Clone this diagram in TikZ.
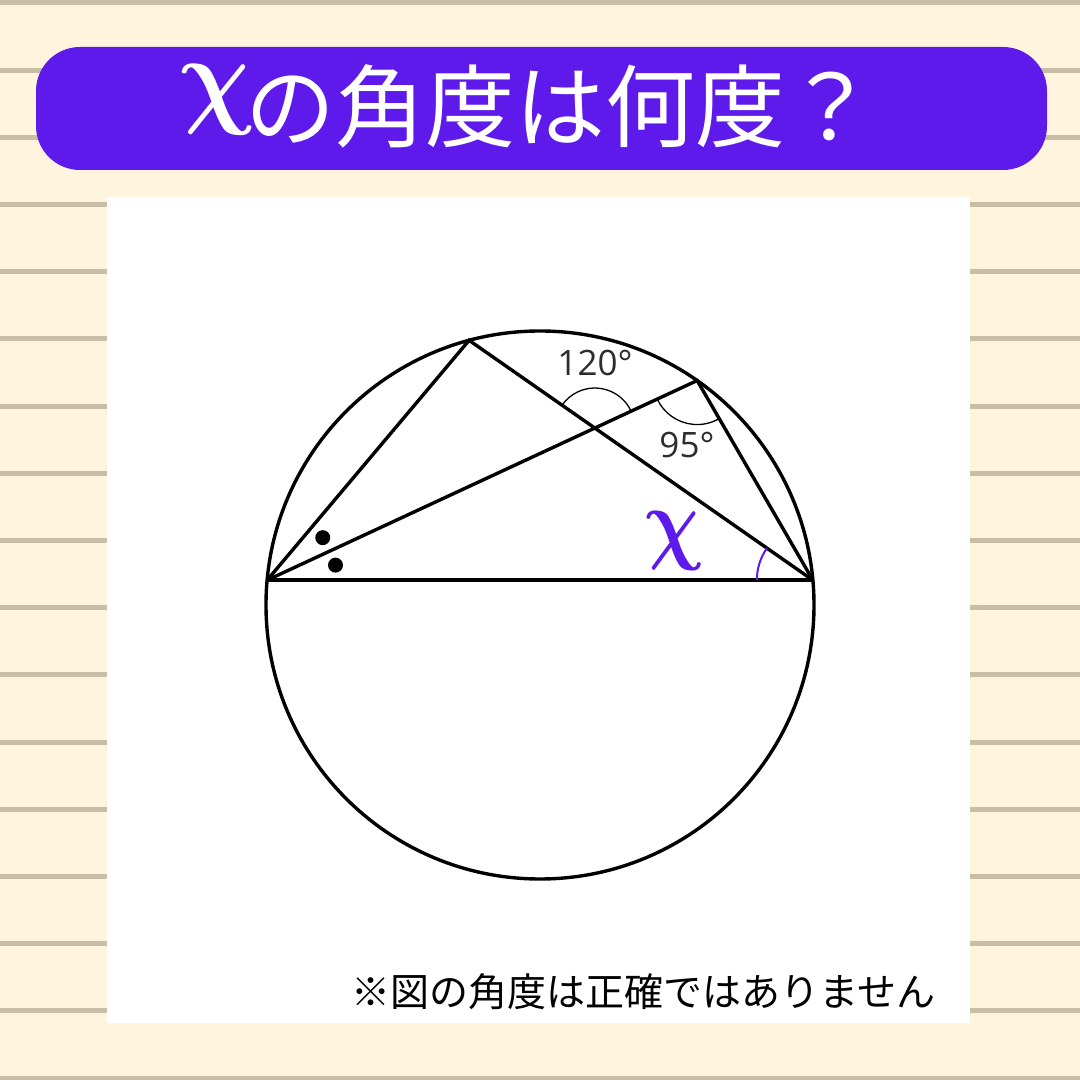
\documentclass[tikz,border=0pt]{standalone}
\usepackage{fontspec}
\newfontfamily\jp{Noto Sans CJK JP}
\newfontfamily\os{Open Sans}
\usetikzlibrary{calc}
\definecolor{cream}{RGB}{255,245,222}
\definecolor{ruled}{RGB}{200,190,168}
\definecolor{vio}{RGB}{94,26,235}
\definecolor{lbl}{RGB}{45,45,45}
\begin{document}
\begin{tikzpicture}[x=1pt,y=1pt,
  geo/.style={line width=3.4pt, black},
  anglearc/.style={line width=1.3pt, black},
  ruleline/.style={ruled, line width=5pt},
  deg/.style={text=lbl, inner sep=0pt, font=\os\fontsize{35}{35}\selectfont},
  dotmark/.style={fill=black}]
\useasboundingbox (0,0) rectangle (1080,1080);
\fill[cream] (0,0) rectangle (1080,1080);
\foreach \k in {0,...,16} \draw[ruleline] (0,{1077-67.2*\k}) -- (1080,{1077-67.2*\k});
\fill[white] (107,57) rectangle (970,883);
\fill[vio, rounded corners=44pt] (36,910) rectangle (1047,1033);
% title
\node[text=white, inner sep=0pt, anchor=west] (title) at (245,974) {\jp\fontsize{90}{90}\selectfont の角度は何度？};
\node[text=white, inner sep=0pt, xslant=-0.12, xscale=0.92] (chiT) at (217,980) {\scalebox{11}{\boldmath$\chi$}};
% geometry
\coordinate (O) at (540,475);
\draw[geo] (O) circle[radius=274];
\coordinate (A) at ($(O)+(174.8:274)$);
\coordinate (B) at ($(O)+(5.2:274)$);
\coordinate (C) at ($(O)+(105:274)$);
\coordinate (D) at ($(O)+(55:274)$);
\draw[geo] (A) -- (B);
\draw[geo] (A) -- (C) -- (B);
\draw[geo] (A) -- (D) -- (B);
\coordinate (P) at (intersection of C--B and A--D);
\draw[anglearc] ($(P)+(24.9:40)$) arc[start angle=24.9, end angle=145.1, radius=40];
\draw[anglearc] ($(D)+(204.9:44)$) arc[start angle=204.9, end angle=300.1, radius=44];
\draw[vio, line width=2pt] ($(B)+(145.1:56)$) arc[start angle=145.1, end angle=180, radius=56];
\fill[dotmark] ($(A)+(37.4:70)$) circle[radius=7.5];
\fill[dotmark] ($(A)+(12.4:70)$) circle[radius=7.5];
\node[deg] (l120) at (595,717) {120°};
\node[deg] (l95) at (687,635) {95°};
\node[text=vio, inner sep=0pt, xslant=-0.12, xscale=0.85] (chiD) at (674,539) {\scalebox{9.2}{\boldmath$\chi$}};
% note
\node[anchor=west, inner sep=0pt, text=black] (note) at (351,88) {\jp\fontsize{39}{39}\selectfont ※図の角度は正確ではありません};
\end{tikzpicture}
\end{document}
